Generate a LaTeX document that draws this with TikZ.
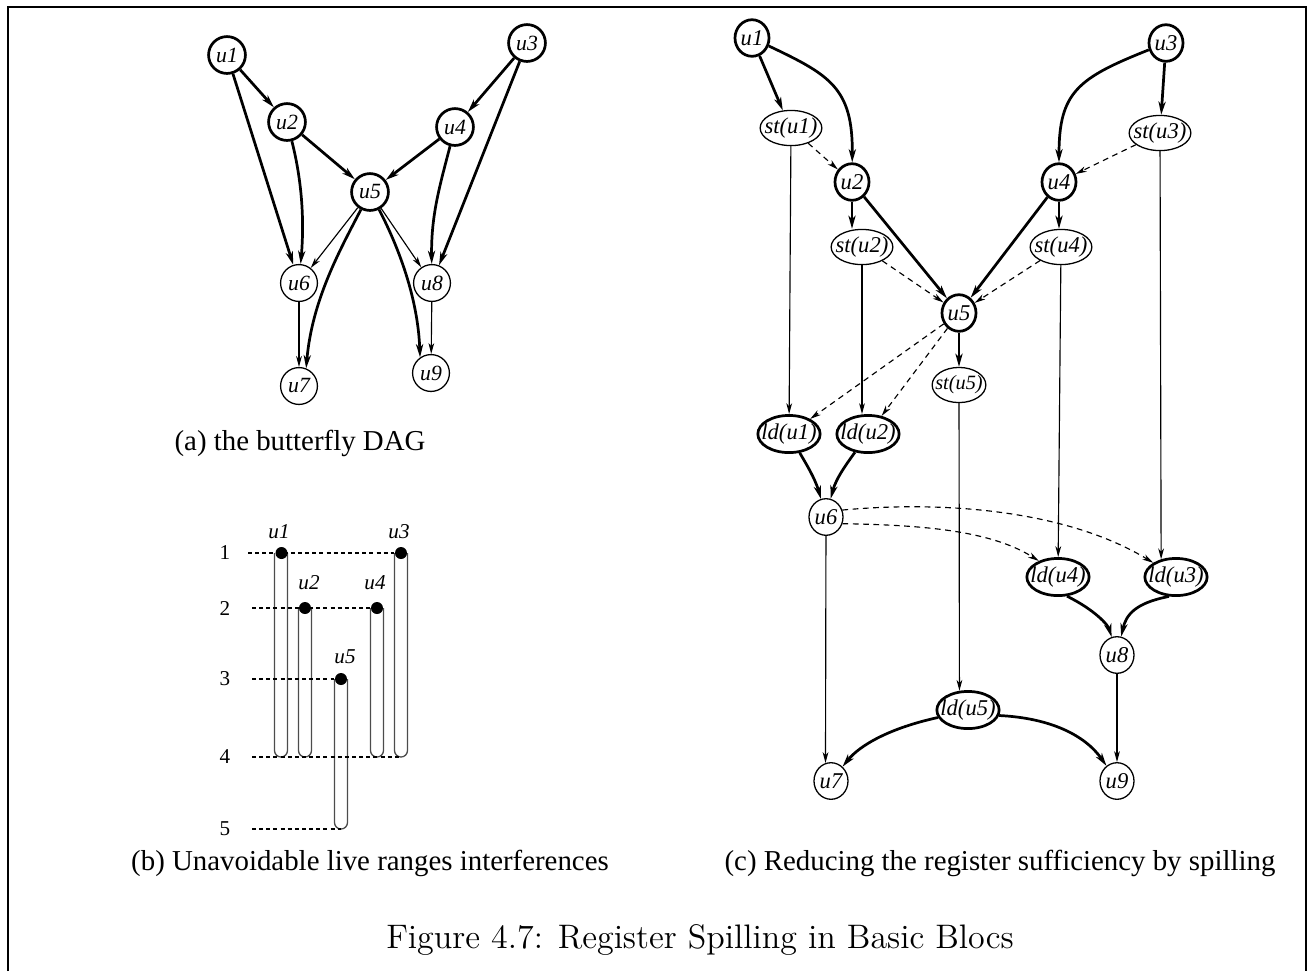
\documentclass[tikz,border=0pt]{standalone}
\usepackage{fontspec}
\newfontfamily\tms{Liberation Serif}
\usetikzlibrary{arrows.meta,shapes.geometric}
\newcommand\zw[1]{\makebox[0pt]{#1}}
\begin{document}
\begin{tikzpicture}[x=0.35pt,y=-0.35pt,
  tk/.style={line width=0.95pt,-{Stealth[length=4.6pt,width=2.5pt,inset=1.3pt]}},
  tn/.style={line width=0.4pt,-{Stealth[length=3.8pt,width=2.0pt,inset=1.1pt]}},
  td/.style={tn,dash pattern=on 2pt off 1.6pt},
  nA/.style={circle,draw,minimum size=12.9pt,inner sep=0pt,font=\tms\itshape\fontsize{7.6}{8}\selectfont},
  nAb/.style={nA,line width=0.95pt},
  nAt/.style={nA,line width=0.45pt},
  nC/.style={ellipse,draw,inner sep=0pt,font=\tms\itshape\fontsize{7.9}{9}\selectfont},
  cb/.style={nC,minimum width=11.9pt,minimum height=12.8pt,line width=0.95pt},
  ct/.style={nC,minimum width=11.9pt,minimum height=12.8pt,line width=0.45pt},
  stn/.style={nC,minimum width=21.6pt,minimum height=12.3pt,line width=0.45pt},
  ldn/.style={nC,minimum width=21.8pt,minimum height=13pt,line width=0.95pt},
  dot/.style={circle,fill=black,minimum size=4.2pt,inner sep=0pt},
  bar/.style={draw=black!70,line width=0.45pt},
  bd/.style={line width=0.4pt,dash pattern=on 1.4pt off 1.1pt},
  rl/.style={font=\tms\fontsize{7.4}{8}\selectfont,inner sep=0pt},
  bl/.style={font=\tms\itshape\fontsize{7.4}{8}\selectfont,inner sep=0pt},
  sub/.style={font=\tms\fontsize{10.1}{12}\selectfont,inner sep=0pt},
  frame/.style={line width=0.8pt}
]
\useasboundingbox (0,0) rectangle (1308,971);
\draw[frame] (8,971) -- (8,7) -- (1306,7) -- (1306,971);

% ---------------- (a) ----------------
\node[nAb] (a1) at (227,55) {u1};
\node[nAb] (a3) at (527,43) {u3};
\node[nAb] (a2) at (287,122) {u2};
\node[nAb] (a4) at (455,127) {u4};
\node[nAb] (a5) at (370,192) {u5};
\node[nAt] (a6) at (299,283) {u6};
\node[nAt] (a8) at (432,283) {u8};
\node[nAt] (a7) at (299,386) {u7};
\node[nAt] (a9) at (431,373) {u9};
\draw[tk] (a1) -- (a2);
\draw[tk] (a1) -- (a6);
\draw[tk] (a2) -- (a5);
\draw[tk] (a2) .. controls (303,185) and (304,225) .. (a6);
\draw[tk] (a3) -- (a4);
\draw[tk] (a3) -- (a8);
\draw[tk] (a4) -- (a5);
\draw[tk] (a4) .. controls (440,185) and (431,215) .. (a8);
\draw[tn] (a5) -- (a6);
\draw[tn] (a5) -- (a8);
\draw[tk] (a5) .. controls (340,250) and (312,300) .. (a7.68);
\draw[tk] (a5) .. controls (400,250) and (418,300) .. (a9.125);
\draw[tn] (a6) -- (a7);
\draw[tn] (a8) -- (a9);
\node[sub] (capa) at (300,443) {(a) the butterfly DAG};

% ---------------- (b) ----------------
\node[rl] (r1) at (225,553) {1};
\node[rl] (r2) at (225,608) {2};
\node[rl] (r3) at (225,679) {3};
\node[rl] (r4) at (225,757) {4};
\node[rl] (r5) at (225,829) {5};
\coordinate (d1) at (248,553);
\coordinate (d2) at (252,608);
\coordinate (d3) at (252,679);
\coordinate (d4) at (252,757);
\coordinate (d5) at (252,829);
\coordinate (e4) at (401,757);
\coordinate (e5) at (341,829);
% bars
\draw[bar] (274.5,553) -- (274.5,750.5) arc[start angle=180,end angle=360,radius=2.275pt] -- (287.5,553);
\draw[bar] (298.5,608) -- (298.5,750.5) arc[start angle=180,end angle=360,radius=2.275pt] -- (311.5,608);
\draw[bar] (334.5,679) -- (334.5,822.5) arc[start angle=180,end angle=360,radius=2.275pt] -- (347.5,679);
\draw[bar] (370.5,608) -- (370.5,750.5) arc[start angle=180,end angle=360,radius=2.275pt] -- (383.5,608);
\draw[bar] (394.5,553) -- (394.5,750.5) arc[start angle=180,end angle=360,radius=2.275pt] -- (407.5,553);
\node[dot] (b1) at (281.5,553) {};
\node[dot] (b3) at (401,553) {};
\node[dot] (b2) at (305,608) {};
\node[dot] (b4) at (377,608) {};
\node[dot] (b5) at (341,679) {};
\draw[bd] (d1) -- (b3);
\draw[bd] (d2) -- (b4);
\draw[bd] (d3) -- (b5);
\draw[bd] (d4) -- (e4);
\draw[bd] (d5) -- (e5);
\node[bl] (l1b) at (279,532) {u1};
\node[bl] (l3b) at (399,532) {u3};
\node[bl] (l2b) at (309,583) {u2};
\node[bl] (l4b) at (375,583) {u4};
\node[bl] (l5b) at (345,657) {u5};
\node[sub] (capb) at (370,863) {(b) Unavoidable live ranges interferences};

% ---------------- (c) ----------------
\node[cb] (c1) at (752,38) {u1};
\node[cb] (c3) at (1166,43) {u3};
\node[stn] (s1) at (791,128) {\zw{st(u1)}};
\node[stn] (s3) at (1160,133) {\zw{st(u3)}};
\node[cb] (c2) at (852,182) {u2};
\node[cb] (c4) at (1059,182) {u4};
\node[stn] (s2) at (862,247) {\zw{st(u2)}};
\node[stn] (s4) at (1061,247) {\zw{st(u4)}};
\node[cb] (c5) at (959,313) {u5};
\node[stn,minimum width=18.8pt,font=\tms\itshape\fontsize{7.1}{8}\selectfont] (s5) at (959,385) {\zw{st(u5)}};
\node[ldn] (l1) at (789,434) {\zw{ld(u1)}};
\node[ldn] (l2) at (868,434) {\zw{ld(u2)}};
\node[ct] (c6) at (826,517) {u6};
\node[ldn] (l4) at (1058,577) {\zw{ld(u4)}};
\node[ldn] (l3) at (1176,577) {\zw{ld(u3)}};
\node[ct] (c8) at (1117,655) {u8};
\node[ldn] (l5) at (968,710) {\zw{ld(u5)}};
\node[ct] (c7) at (831,781) {u7};
\node[ct] (c9) at (1117,781) {u9};

\draw[tk] (c1) -- (s1.115);
\draw[tk] (c1) .. controls (830,75) and (853,88) .. (c2);
\draw[tk] (c3) -- (s3);
\draw[tk] (c3) .. controls (1078,78) and (1059,92) .. (c4);
\draw[td] (s1) -- (c2);
\draw[td] (s3) -- (c4);
\draw[tk] (c2) -- (c2 |- s2.north);
\draw[tk] (c4) -- (c4 |- s4.north);
\draw[tk] (c2) -- (c5);
\draw[tk] (c4) -- (c5);
\draw[td] (s2) -- (c5);
\draw[td] (s4) -- (c5);
\draw[tn] (s1) -- (l1);
\draw[tn] (s2) -- (s2 |- l2.north);
\draw[tn] (s3) -- (l3.130);
\draw[tn] (s4) -- (l4);
\draw[tk] (c5) -- (s5);
\draw[td] (c5) -- (l1);
\draw[td] (c5) -- (l2);
\draw[tn] (s5) -- (l5.114);
\draw[tk] (l1) .. controls (805,462) and (815,478) .. (c6);
\draw[tk] (l2) .. controls (848,462) and (836,478) .. (c6);
\draw[td] (c6.23) .. controls (950,500) and (1070,512) .. (l3.148);
\draw[td] (c6.-22) .. controls (920,525) and (990,530) .. (l4.140);
\draw[tk] (l4.-65) .. controls (1095,610) and (1108,625) .. (c8);
\draw[tk] (l3.-110) .. controls (1135,603) and (1126,615) .. (c8);
\draw[tn] (c6) -- (c7.107);
\draw[tn] (c8) -- (c9);
\draw[tk] (l5.194) .. controls (890,728) and (860,745) .. (c7);
\draw[tk] (l5.-10) .. controls (1050,718) and (1085,735) .. (c9);
\node[sub] (capc) at (1000,863) {(c) Reducing the register sufficiency by spilling};

% ---------------- caption ----------------
\node[font=\fontsize{11.9}{14}\selectfont,inner sep=0pt] (cap) at (700,940) {Figure 4.7: Register Spilling in Basic Blocs};
\end{tikzpicture}
\end{document}
